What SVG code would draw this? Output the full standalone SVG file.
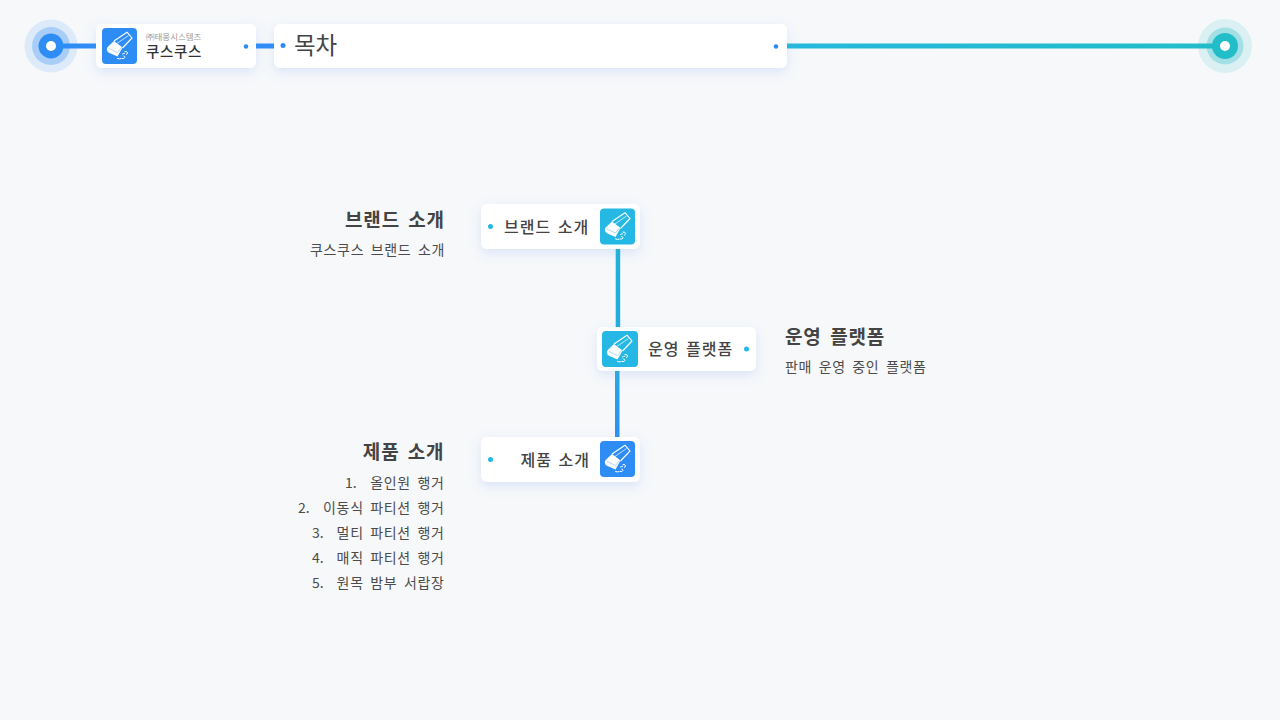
<svg xmlns="http://www.w3.org/2000/svg" xmlns:xlink="http://www.w3.org/1999/xlink" width="1280" height="720" viewBox="0 0 1280 720">
<style>
text{font-family:"Noto Sans CJK KR","Noto Sans",sans-serif;fill:#444}
.card{fill:#fff;filter:url(#sh)}
.h{font-size:19px;font-weight:700;text-anchor:end;letter-spacing:.9px;word-spacing:3px}
.h2{font-size:19px;font-weight:700;letter-spacing:.8px;word-spacing:3.500px}
.d{font-size:14px;letter-spacing:.65px;word-spacing:2.800px;fill:#4c4c4c}
.n{font-size:14px;fill:#4c4c4c}
.e{text-anchor:end}
.lab{font-size:16px;font-weight:500;letter-spacing:1px;word-spacing:2px}
.blue{fill:#2e8df5}
.cy{fill:#25b8e4}
</style>
<defs>
<filter id="sh" x="-20%" y="-40%" width="140%" height="220%"><feDropShadow dx="0" dy="4" stdDeviation="6" flood-color="#5f93f0" flood-opacity="0.2"/></filter>
<linearGradient id="top" gradientUnits="userSpaceOnUse" x1="787" y1="0" x2="1225" y2="0"><stop offset="0" stop-color="#25b8dc"/><stop offset="1" stop-color="#22bdc8"/></linearGradient>
<linearGradient id="v1" gradientUnits="userSpaceOnUse" x1="0" y1="248" x2="0" y2="328"><stop offset="0" stop-color="#20b2d6"/><stop offset="1" stop-color="#25ace0"/></linearGradient>
<linearGradient id="v2" gradientUnits="userSpaceOnUse" x1="0" y1="370" x2="0" y2="438"><stop offset="0" stop-color="#25ace0"/><stop offset="1" stop-color="#2e8df5"/></linearGradient>
<g id="eraser">
<path d="M12 13 L25 4.200 L30 10 L20.500 20" fill="none" stroke="#fff" stroke-width="1.100" stroke-linejoin="round"/>
<path d="M13.500 16.500 L26.500 7.500" fill="none" stroke="#fff" stroke-width=".7"/>
<path d="M6.200 18.500 L12 13 L20.500 19.500 L15.500 28.500 L7.500 25 Q5 23.800 4.800 21.500 Q4.800 19.700 6.200 18.500Z" fill="#fff"/>
<path d="M7 20.500 L15.500 24.500 L19.500 19.500" fill="none" stroke="#9ac4ee" stroke-width=".7"/>
<path d="M15.500 30.500 q2 .9 3.500 .2 M20 30.500 q2.500 .8 3 -1.200 q0 -1 -1.300 -1.300 M20.500 26 q1 -.8 2 -.7 M23 23.500 q2.500 -.3 2.500 1.500 q0 1 -1 1.500" fill="none" stroke="#fff" stroke-width="1" stroke-linecap="round"/>
</g>
</defs>
<rect width="1280" height="720" fill="#f7f8fa"/>
<g id="connectors">
<path d="M51 46H100M252 46H278" stroke="#2e8df5" stroke-width="5" fill="none"/>
<rect x="785" y="43.500" width="440" height="5" fill="url(#top)"/>
<rect x="615.700" y="246" width="4.500" height="84" fill="url(#v1)"/>
<rect x="615" y="368" width="4.500" height="72" fill="url(#v2)"/>
</g>
<g id="start-dot"><circle cx="51" cy="46" r="26.500" fill="#2e8df5" fill-opacity=".13"/><circle cx="51" cy="46" r="19" fill="#2e8df5" fill-opacity=".3"/><circle cx="51" cy="46" r="12.500" fill="#2e8df5"/><circle cx="51" cy="46" r="5" fill="#fff"/></g>
<g id="end-dot"><circle cx="1225" cy="46" r="27" fill="#22bdc8" fill-opacity=".13"/><circle cx="1225" cy="46" r="18.500" fill="#22bdc8" fill-opacity=".3"/><circle cx="1225" cy="46" r="13" fill="#22bdc8"/><circle cx="1225" cy="46" r="5" fill="#fff"/></g>
<g id="logo-node">
<rect class="card" x="96" y="24" width="160" height="44" rx="6"/>
<rect class="blue" x="102" y="28" width="35" height="36" rx="4"/><use xlink:href="#eraser" href="#eraser" x="102" y="28"/>
<text x="146" y="40" font-size="8.500" style="fill:#9a9a9a">㈜태웅시스템즈</text>
<text x="146" y="57" font-size="14.500" font-weight="500" letter-spacing=".7" style="fill:#333">쿠스쿠스</text>
<circle class="blue" cx="246" cy="46.500" r="2.300"/>
</g>
<g id="title-node">
<rect class="card" x="274" y="24" width="513" height="44" rx="6"/>
<circle class="blue" cx="283" cy="45.500" r="2.500"/>
<text x="294" y="54" font-size="23.500">목차</text>
<circle class="blue" cx="776" cy="46.500" r="2.300"/>
</g>
<g id="brand-node">
<rect class="card" x="481" y="204" width="159" height="45" rx="6"/>
<circle class="cy" cx="490.500" cy="226.500" r="2.500"/>
<text class="lab" x="504" y="233">브랜드 소개</text>
<rect class="cy" x="600" y="208.500" width="35" height="36" rx="4"/><use xlink:href="#eraser" href="#eraser" x="600" y="208.500"/>
<text class="h" x="445" y="227">브랜드 소개</text>
<text class="d e" x="445" y="255">쿠스쿠스 브랜드 소개</text>
</g>
<g id="platform-node">
<rect class="card" x="597" y="327" width="159" height="44" rx="6"/>
<rect class="cy" x="602" y="331" width="36" height="36" rx="4"/><use xlink:href="#eraser" href="#eraser" x="602" y="331"/>
<text class="lab" x="648" y="355">운영 플랫폼</text>
<circle class="cy" cx="746.500" cy="349" r="2.500"/>
<text class="h2" x="785" y="344">운영 플랫폼</text>
<text class="d" x="785" y="372">판매 운영 중인 플랫폼</text>
</g>
<g id="product-node">
<rect class="card" x="481" y="437" width="159" height="45" rx="6"/>
<circle class="cy" cx="490.500" cy="459.500" r="2.500"/>
<text class="lab e" x="590" y="466">제품 소개</text>
<rect class="blue" x="600" y="441" width="35" height="36" rx="4"/><use xlink:href="#eraser" href="#eraser" x="600" y="441"/>
<text class="h" x="444.500" y="459">제품 소개</text>
<text class="d e" x="444.500" y="488">올인원 행거</text><text class="n" x="345" y="488">1.</text>
<text class="d e" x="444.500" y="513">이동식 파티션 행거</text><text class="n" x="298" y="513">2.</text>
<text class="d e" x="444.500" y="538">멀티 파티션 행거</text><text class="n" x="312" y="538">3.</text>
<text class="d e" x="444.500" y="563">매직 파티션 행거</text><text class="n" x="312" y="563">4.</text>
<text class="d e" x="444.500" y="588">원목 밤부 서랍장</text><text class="n" x="312" y="588">5.</text>
</g>
</svg>
